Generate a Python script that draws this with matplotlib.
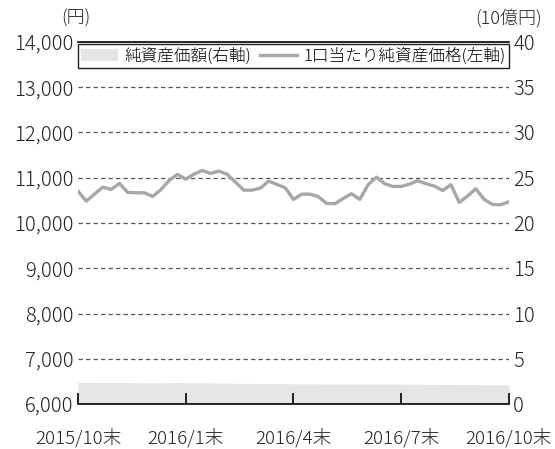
import numpy as np
import matplotlib.pyplot as plt
from matplotlib.patches import Patch
from matplotlib.lines import Line2D

plt.rcParams['font.family'] = ['Noto Sans CJK JP', 'DejaVu Sans']
plt.rcParams['font.weight'] = 'light'

# weekly values, 2015/10末 -> 2016/10末
price = [10704, 10483, 10640, 10793, 10742, 10874, 10676, 10668, 10668, 10587,
         10735, 10940, 11073, 10969, 11079, 11161, 11095, 11146, 11079, 10903,
         10726, 10726, 10770, 10925, 10852, 10779, 10521, 10638, 10638, 10581,
         10433, 10426, 10543, 10647, 10521, 10845, 11013, 10868, 10808, 10808,
         10859, 10934, 10868, 10815, 10720, 10845, 10455, 10594, 10757, 10521,
         10411, 10404, 10470]
net_assets = [2.38, 2.38, 2.37, 2.37, 2.37, 2.36, 2.36, 2.35, 2.35, 2.34,
              2.35, 2.35, 2.36, 2.35, 2.35, 2.35, 2.34, 2.33, 2.31, 2.29,
              2.28, 2.27, 2.27, 2.26, 2.26, 2.25, 2.23, 2.23, 2.22, 2.22,
              2.21, 2.20, 2.20, 2.21, 2.20, 2.21, 2.22, 2.21, 2.20, 2.20,
              2.19, 2.19, 2.18, 2.18, 2.17, 2.17, 2.15, 2.15, 2.14, 2.13,
              2.12, 2.11, 2.11]
x_labels = ["2015/10末", "2016/1末", "2016/4末", "2016/7末", "2016/10末"]
x_ticks = [0, 13, 26, 39, 52]
left_ticks = [6000, 7000, 8000, 9000, 10000, 11000, 12000, 13000, 14000]
right_ticks = [0, 5, 10, 15, 20, 25, 30, 35, 40]

line_color = "#a6a7a9"
area_color = "#e5e5e6"
text_color = "#222222"

fig = plt.figure(figsize=(5.55, 4.49), dpi=100)
ax = fig.add_axes([0.1405, 0.1002, 0.7766, 0.8063])
ax2 = ax.twinx()
# left axis (line, ticks, legend) drawn above the area
ax.set_zorder(ax2.get_zorder() + 1)
ax.patch.set_visible(False)

x = np.arange(len(price))
ax2.fill_between(x, 0, net_assets, color=area_color, lw=0, zorder=1)
ax.plot(x, price, color=line_color, lw=2.4, zorder=3)

ax.set_xlim(0, 52)
ax.set_ylim(6000, 14000)
ax2.set_ylim(0, 40)

ax.set_yticks(left_ticks)
ax.set_yticklabels([f"{v:,}" for v in left_ticks])
ax2.set_yticks(right_ticks)
ax2.set_yticklabels([str(v) for v in right_ticks])
ax.set_xticks(x_ticks)
ax.set_xticklabels(x_labels)

for a in (ax, ax2):
    for s in ("left", "right", "top", "bottom"):
        a.spines[s].set_visible(False)

ax.spines["bottom"].set_visible(True)
ax.spines["top"].set_visible(True)
ax.spines["bottom"].set_linewidth(1.2)
ax.spines["top"].set_linewidth(1.2)

ax.tick_params(axis="y", length=0, pad=3, labelsize=14.5, labelcolor=text_color)
ax2.tick_params(axis="y", length=0, pad=3, labelsize=14.5, labelcolor=text_color)
ax.tick_params(axis="x", direction="in", length=8, width=1.2, pad=17,
               labelsize=13.5, labelcolor=text_color)

for v in left_ticks[1:-1]:
    ax.axhline(v, color="#555555", lw=0.9, ls=(0, (3.5, 2.5)), zorder=2)

ax.text(-0.005, 1.04, "(円)", transform=ax.transAxes, ha="center", va="bottom",
        fontsize=13, color=text_color)
ax.text(1.0, 1.04, "(10億円)", transform=ax.transAxes, ha="center", va="bottom",
        fontsize=13, color=text_color)

handles = [Patch(facecolor=area_color, edgecolor="none"),
           Line2D([], [], color=line_color, lw=2.4)]
labels = ["純資産価額(右軸)", "1口当たり純資産価格(左軸)"]
leg = ax.legend(handles, labels, loc="upper left", bbox_to_anchor=(0, 0.994, 1, 0),
                mode="expand", ncol=2, fancybox=False, framealpha=1,
                edgecolor="#222222", fontsize=12, borderaxespad=0,
                handlelength=2.2, handletextpad=0.4, columnspacing=0.6,
                borderpad=0.2)
leg.get_frame().set_linewidth(1.0)
leg.set_zorder(5)

fig.savefig("out.png", dpi=100)
